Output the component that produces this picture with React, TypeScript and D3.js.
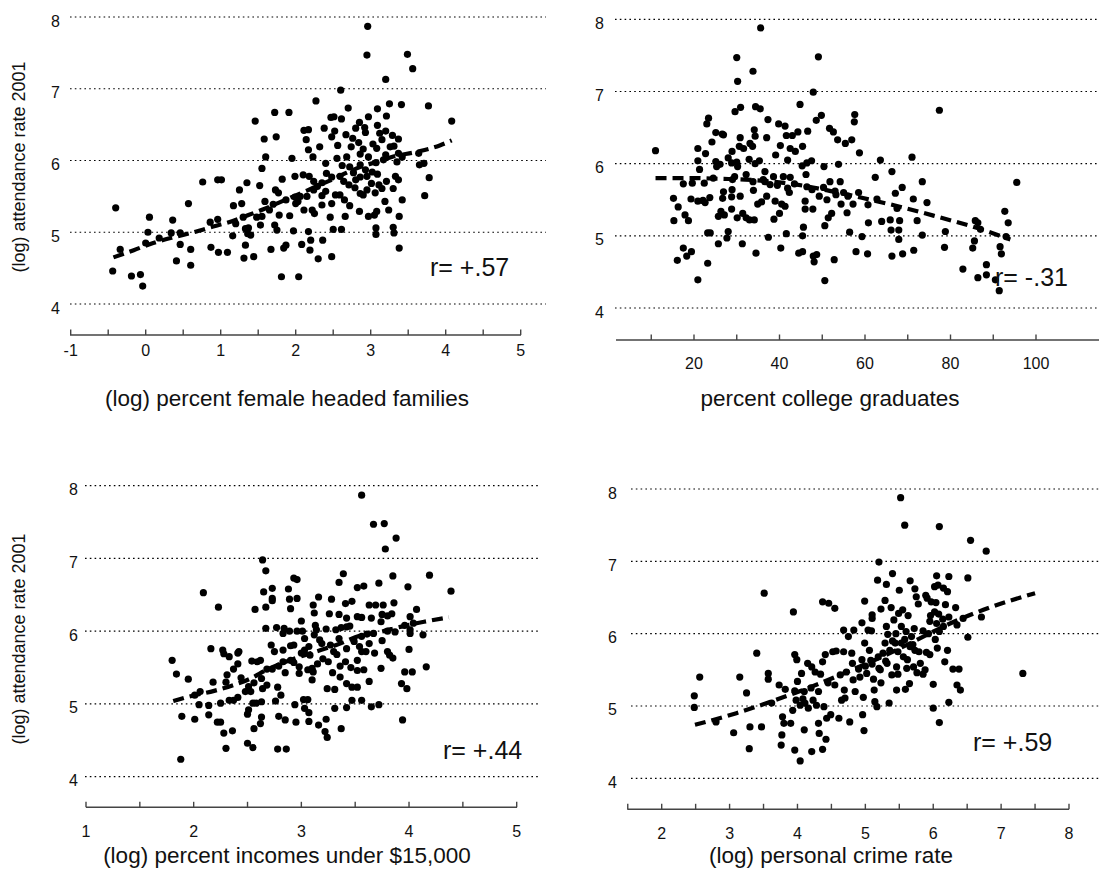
import React from "react";
import * as d3 from "d3";

// ---------------- DATA ----------------
const femaleData: [number, number][] = [
  [2.96,7.87],[2.95,7.47],[3.49,7.48],[3.56,7.28],[3.20,7.13],[2.60,6.98],[2.27,6.83],[2.70,6.73],[3.25,6.79],[3.41,6.78],
  [3.77,6.76],[4.08,6.55],[1.72,6.67],[1.91,6.67],[1.46,6.55],[3.09,6.72],[3.21,6.62],[2.47,6.60],[2.51,6.61],[2.61,6.58],
  [2.97,6.61],[2.85,6.53],[2.92,6.46],[2.80,6.45],[3.09,6.49],[2.38,6.45],[2.52,6.41],[2.11,6.42],[2.17,6.43],[2.93,6.39],
  [3.12,6.38],[3.20,6.41],[3.29,6.35],[1.74,6.33],[1.58,6.30],[2.14,6.29],[2.48,6.33],[2.67,6.36],[2.76,6.31],[2.84,6.25],
  [3.03,6.23],[3.15,6.29],[3.37,6.30],[3.26,6.19],[2.32,6.19],[2.56,6.21],[2.74,6.19],[2.17,6.15],[2.90,6.16],[3.08,6.17],
  [3.20,6.08],[3.31,6.20],[3.37,6.10],[1.60,6.05],[1.95,6.03],[2.23,6.05],[2.55,6.03],[2.68,6.05],[2.86,6.09],[2.97,6.05],
  [3.07,5.97],[3.17,6.01],[3.42,6.05],[3.35,5.98],[3.64,6.10],[3.71,5.96],[3.65,5.94],[2.40,5.96],[2.62,5.93],[2.72,5.91],
  [2.86,5.94],[2.93,5.87],[3.02,5.84],[3.09,5.81],[1.55,5.89],[2.77,5.83],[2.86,5.77],[2.95,5.78],[3.11,5.66],[3.21,5.71],
  [3.37,5.73],[3.33,5.78],[3.78,5.76],[0.76,5.70],[0.96,5.73],[1.01,5.73],[1.35,5.69],[1.82,5.74],[1.99,5.78],[1.52,5.65],
  [1.25,5.59],[1.73,5.59],[2.10,5.80],[2.18,5.78],[2.24,5.71],[2.29,5.64],[2.35,5.69],[2.41,5.82],[2.48,5.77],[2.59,5.78],
  [2.64,5.71],[2.71,5.66],[2.80,5.73],[2.95,5.59],[3.01,5.68],[3.15,5.61],[3.30,5.61],[3.72,5.51],[2.79,5.62],[2.86,5.54],
  [3.06,5.55],[3.19,5.43],[2.90,5.52],[2.59,5.52],[2.65,5.45],[2.53,5.52],[2.35,5.51],[2.40,5.57],[2.24,5.59],[2.35,5.38],
  [2.48,5.40],[2.72,5.37],[2.85,5.29],[3.08,5.29],[3.24,5.31],[3.42,5.45],[3.38,5.22],[2.97,5.22],[3.05,5.24],[2.66,5.22],
  [2.46,5.21],[2.50,5.04],[2.61,5.04],[3.07,5.06],[3.07,4.97],[3.30,5.07],[3.31,4.99],[3.38,4.78],[0.57,5.40],[0.36,5.17],
  [0.05,5.21],[-0.40,5.34],[-0.34,4.76],[0.03,5.00],[0.00,4.85],[0.18,4.92],[0.34,4.99],[0.46,4.99],[0.46,4.83],[0.60,4.76],
  [0.41,4.60],[0.60,4.54],[-0.44,4.46],[-0.19,4.39],[-0.07,4.41],[-0.04,4.25],[0.86,5.14],[0.87,4.79],[0.96,5.18],[0.97,4.72],
  [1.09,4.72],[1.16,4.95],[1.17,5.37],[1.28,5.40],[1.30,5.21],[1.31,4.64],[1.33,4.82],[1.37,5.06],[1.40,4.96],[1.44,4.66],
  [1.48,5.21],[1.59,5.43],[1.67,4.76],[1.70,5.39],[1.75,5.03],[1.78,5.24],[1.81,4.38],[1.84,4.78],[1.87,5.45],[1.87,4.82],
  [1.92,5.23],[1.97,5.02],[2.04,4.38],[2.06,5.50],[2.08,4.83],[2.11,5.31],[2.15,5.50],[2.17,5.01],[2.20,4.89],[2.22,5.31],
  [2.19,4.75],[2.30,4.63],[2.36,4.89],[2.48,4.66],[1.99,5.49],[2.03,5.43],[1.65,5.31],[1.55,5.22],[1.33,5.05],[1.36,4.98],
  [1.72,5.10],[1.77,5.55],[1.53,5.10],[1.20,5.12],[2.25,5.26],[2.00,5.40]
];
const femaleFit: [number, number][] = [
  [-0.43,4.65],[-0.16,4.75],[0.10,4.85],[0.37,4.93],[0.64,5.00],[0.90,5.08],[1.17,5.16],[1.37,5.24],[1.57,5.32],
  [1.77,5.41],[1.97,5.50],[2.15,5.58],[2.32,5.66],[2.50,5.74],[2.68,5.83],[2.86,5.91],[3.08,5.98],[3.28,6.05],
  [3.61,6.12],[3.92,6.21],[4.08,6.28]
];

const collegeData: [number, number][] = [
  [35.6,7.88],[30.0,7.47],[49.1,7.48],[33.8,7.28],[30.2,7.14],[47.9,6.99],[11.0,6.18],[77.4,6.74],[29.6,6.72],[30.9,6.78],
  [34.4,6.79],[35.5,6.76],[44.8,6.82],[49.8,6.67],[48.6,6.60],[57.6,6.68],[57.5,6.58],[23.4,6.63],[23.0,6.55],[37.3,6.61],
  [39.8,6.55],[41.3,6.52],[51.7,6.49],[52.6,6.44],[46.6,6.45],[44.3,6.44],[43.0,6.39],[41.6,6.39],[34.1,6.47],[34.3,6.38],
  [37.0,6.36],[30.8,6.36],[25.1,6.43],[26.6,6.41],[26.9,6.40],[24.2,6.30],[20.9,6.21],[22.7,6.14],[33.1,6.28],[33.7,6.24],
  [30.6,6.24],[31.6,6.21],[28.9,6.17],[40.2,6.25],[42.5,6.21],[43.7,6.17],[45.4,6.24],[53.6,6.33],[55.4,6.28],[56.9,6.33],
  [58.7,6.15],[63.6,6.05],[71.0,6.09],[66.3,5.89],[39.1,6.12],[41.9,6.05],[45.3,5.97],[46.4,6.01],[47.5,6.04],[50.4,5.96],
  [53.8,5.99],[20.9,6.04],[21.3,5.92],[25.1,6.03],[25.3,5.96],[26.1,5.99],[28.0,6.08],[28.8,6.01],[30.0,6.02],[30.2,5.96],
  [32.9,6.06],[34.3,6.00],[35.3,6.04],[36.6,5.89],[17.5,5.72],[19.6,5.73],[22.4,5.73],[15.2,5.52],[16.3,5.40],[15.3,5.21],
  [17.9,5.29],[18.7,5.21],[19.3,5.51],[20.9,5.48],[22.1,5.49],[22.6,5.46],[23.7,5.53],[17.5,4.83],[16.1,4.66],[18.3,4.72],
  [19.4,4.78],[20.9,4.39],[23.2,4.62],[23.2,5.04],[23.8,5.04],[25.7,4.89],[25.7,5.27],[26.3,5.34],[27.1,5.29],[26.7,5.52],
  [26.9,5.61],[27.7,4.97],[28.0,5.06],[28.8,5.37],[28.8,5.54],[28.9,5.64],[29.5,5.82],[30.1,5.25],[30.8,5.55],[31.3,4.89],
  [31.4,5.31],[32.2,5.25],[33.0,5.22],[34.1,5.22],[32.2,5.85],[33.8,5.75],[33.9,5.63],[34.5,4.76],[34.9,5.44],[35.8,5.47],
  [36.6,5.75],[37.0,5.55],[37.4,4.98],[37.8,5.71],[38.6,5.82],[38.7,5.23],[38.98,5.48],[40.0,5.31],[40.3,4.83],[40.5,5.44],
  [40.9,5.82],[41.3,5.41],[41.6,5.03],[41.9,5.66],[42.3,5.60],[42.5,5.81],[44.5,4.76],[45.4,5.00],[45.6,5.12],[45.4,4.78],
  [46.0,5.48],[46.0,5.37],[46.2,5.85],[46.4,5.68],[47.6,5.64],[47.8,5.37],[47.9,4.72],[48.1,4.64],[48.7,4.74],[49.3,5.55],
  [50.3,5.67],[50.6,5.14],[50.6,4.38],[51.1,5.50],[51.4,5.25],[51.8,5.75],[52.2,5.31],[52.8,4.67],[53.2,5.57],[54.2,5.75],
  [54.4,5.44],[55.0,5.60],[55.8,5.32],[56.4,5.05],[57.2,5.44],[57.9,4.78],[58.5,5.60],[59.3,4.99],[60.6,4.75],[60.8,5.18],
  [60.7,5.43],[62.4,5.81],[62.8,5.51],[63.9,5.20],[65.9,5.22],[66.1,5.08],[66.3,4.72],[67.1,5.59],[67.5,5.38],[67.9,5.08],
  [67.9,4.95],[68.1,5.21],[68.7,5.67],[68.8,4.75],[71.3,5.51],[71.4,4.80],[72.2,5.21],[73.4,5.75],[73.4,5.01],[74.5,5.46],
  [78.8,5.06],[78.6,4.84],[82.9,4.54],[85.2,4.83],[85.6,4.93],[85.8,5.21],[86.4,5.18],[86.4,4.42],[88.4,4.60],[88.4,4.46],
  [90.5,4.39],[91.6,4.85],[91.9,4.75],[91.4,4.24],[92.7,5.34],[93.0,4.99],[93.5,5.18],[95.5,5.74],[87.0,5.09],[36.2,5.78],
  [39.5,5.70],[43.5,5.72],[29.0,5.78],[24.5,5.80],[53.0,5.62],[56.0,5.55]
];
const collegeFit: [number, number][] = [
  [11,5.80],[20,5.80],[26,5.79],[32,5.78],[40,5.74],[46,5.69],[52,5.62],[59,5.53],[67,5.42],[76,5.28],[85,5.13],[94,4.95]
];

const incomeData: [number, number][] = [
  [3.56,7.87],[3.67,7.47],[3.77,7.48],[3.88,7.28],[3.78,7.13],[2.64,6.98],[2.67,6.83],[2.93,6.73],[2.96,6.71],[3.39,6.79],
  [3.35,6.67],[3.85,6.76],[4.19,6.77],[4.39,6.55],[3.99,6.61],[3.72,6.66],[3.58,6.62],[3.52,6.60],[2.09,6.53],[2.73,6.59],
  [2.88,6.58],[2.65,6.54],[2.73,6.45],[2.73,6.42],[2.89,6.44],[2.96,6.45],[3.16,6.47],[3.28,6.44],[3.47,6.41],[3.41,6.38],
  [3.63,6.36],[3.69,6.36],[3.76,6.36],[3.86,6.39],[4.07,6.30],[2.23,6.33],[2.57,6.30],[2.67,6.33],[2.90,6.31],[3.11,6.36],
  [3.12,6.25],[3.26,6.24],[3.35,6.23],[3.42,6.18],[3.52,6.20],[3.56,6.19],[3.65,6.18],[3.75,6.23],[3.80,6.21],[3.84,6.24],
  [4.01,6.20],[3.00,6.14],[3.45,6.07],[3.74,6.13],[3.96,6.08],[4.04,6.11],[2.67,6.04],[2.77,6.05],[2.84,6.04],[2.89,6.00],
  [2.96,6.00],[3.01,6.00],[3.13,6.08],[3.12,5.95],[3.14,6.02],[3.23,6.03],[3.32,6.02],[3.37,6.05],[3.42,6.06],[3.80,6.00],
  [3.87,5.99],[4.01,6.02],[4.01,5.97],[4.13,5.95],[2.83,5.97],[3.03,5.90],[3.17,5.88],[3.35,5.90],[3.56,5.93],[3.61,5.96],
  [3.67,5.97],[3.75,5.87],[2.16,5.76],[2.27,5.74],[2.28,5.69],[2.33,5.65],[2.42,5.72],[2.41,5.70],[2.72,5.81],[2.75,5.72],
  [2.83,5.74],[2.90,5.80],[2.93,5.81],[3.00,5.70],[3.03,5.74],[3.07,5.79],[3.08,5.67],[3.19,5.83],[3.27,5.81],[3.30,5.72],
  [3.42,5.76],[3.49,5.86],[3.54,5.79],[3.56,5.72],[3.60,5.72],[3.63,5.83],[3.68,5.70],[3.80,5.72],[3.82,5.67],[3.85,5.63],
  [4.00,5.75],[4.16,5.51],[1.80,5.60],[1.84,5.41],[1.95,5.34],[2.18,5.30],[2.31,5.40],[2.37,5.48],[2.41,5.55],[2.54,5.59],
  [2.59,5.58],[2.62,5.60],[2.68,5.48],[2.73,5.48],[2.79,5.52],[2.83,5.58],[2.85,5.43],[2.93,5.57],[2.98,5.51],[2.98,5.42],
  [3.06,5.47],[3.10,5.49],[3.11,5.44],[3.10,5.33],[3.25,5.58],[3.29,5.43],[3.36,5.52],[3.41,5.58],[3.46,5.50],[3.52,5.60],
  [3.52,5.46],[3.58,5.47],[3.63,5.31],[3.74,5.49],[3.36,5.37],[3.42,5.28],[3.47,5.23],[3.52,5.23],[3.24,5.21],[3.31,5.20],
  [3.93,5.28],[3.98,5.21],[3.96,5.44],[4.03,5.44],[2.63,5.35],[2.56,5.29],[2.51,5.24],[2.53,5.17],[2.48,5.17],[2.64,5.21],
  [2.68,5.26],[2.78,5.23],[2.81,5.12],[2.06,5.17],[2.01,5.12],[2.05,4.99],[2.14,4.98],[2.25,5.01],[2.33,5.05],[2.37,5.05],
  [2.41,5.09],[2.51,4.92],[2.50,4.86],[2.55,5.01],[2.58,5.01],[2.63,5.03],[2.76,5.04],[2.94,4.99],[3.02,5.06],[3.06,5.06],
  [3.03,4.94],[3.07,4.88],[3.07,4.76],[3.16,4.71],[3.23,4.79],[3.22,4.62],[3.24,4.54],[3.31,4.94],[3.42,4.95],[3.37,4.66],
  [3.47,5.05],[3.56,5.05],[3.65,4.96],[3.72,4.99],[3.94,4.78],[1.89,4.83],[2.01,4.79],[2.14,4.85],[2.22,4.75],[2.25,4.75],
  [2.28,4.60],[2.36,4.63],[2.30,4.39],[2.50,4.46],[2.55,4.40],[2.56,4.66],[2.62,4.73],[2.63,4.82],[2.79,4.83],[2.85,4.78],
  [2.95,4.75],[2.78,4.38],[2.86,4.38],[1.88,4.24],[2.30,5.30],[2.44,5.36],[3.20,5.62],[3.33,5.68],[2.90,5.60],[3.15,5.55]
];
const incomeFit: [number, number][] = [
  [1.81,5.04],[1.98,5.11],[2.19,5.18],[2.37,5.26],[2.53,5.35],[2.68,5.47],[2.82,5.56],[2.99,5.65],[3.18,5.74],
  [3.36,5.83],[3.55,5.94],[3.73,5.99],[3.92,6.06],[4.14,6.13],[4.37,6.19]
];

const crimeData: [number, number][] = [
  [5.52,7.88],[5.58,7.50],[6.09,7.48],[6.55,7.29],[6.78,7.14],[5.20,6.99],[5.18,6.74],[5.40,6.83],[5.31,6.68],[5.50,6.60],
  [5.66,6.73],[6.05,6.80],[6.23,6.79],[6.51,6.77],[5.73,6.62],[6.02,6.65],[6.07,6.67],[6.15,6.63],[6.21,6.58],[5.89,6.53],
  [5.75,6.51],[5.78,6.41],[5.91,6.49],[5.97,6.44],[6.04,6.43],[6.18,6.40],[6.33,6.36],[3.51,6.56],[3.94,6.30],[4.37,6.44],
  [4.46,6.42],[4.55,6.35],[4.99,6.45],[5.10,6.21],[5.10,6.26],[5.23,6.34],[5.29,6.46],[5.38,6.36],[5.49,6.28],[5.55,6.33],
  [5.63,6.25],[5.42,6.19],[5.96,6.25],[6.02,6.30],[6.08,6.27],[5.95,6.17],[6.14,6.20],[6.23,6.23],[6.35,6.12],[6.44,6.21],
  [6.71,6.23],[6.51,5.95],[4.95,6.15],[4.68,6.05],[4.75,5.96],[4.83,6.05],[5.04,6.05],[5.09,6.04],[5.31,6.10],[5.33,5.99],
  [5.45,6.00],[5.53,6.10],[5.60,6.03],[5.68,5.96],[5.72,6.07],[5.85,6.04],[5.93,6.00],[6.05,6.14],[6.09,6.03],[6.15,6.10],
  [6.03,5.92],[6.06,5.80],[6.21,5.77],[6.17,5.61],[6.29,5.51],[6.38,5.51],[6.35,5.29],[6.40,5.22],[7.32,5.45],[3.40,5.73],
  [3.57,5.45],[3.57,5.37],[2.56,5.40],[3.15,5.40],[3.25,5.18],[2.48,5.14],[2.48,4.98],[2.80,4.78],[3.06,4.63],[3.30,4.71],
  [3.47,4.71],[3.29,4.41],[3.62,5.04],[3.73,5.29],[3.82,5.23],[3.78,4.85],[3.77,4.60],[3.76,4.46],[3.80,4.76],[3.90,4.76],
  [3.93,4.94],[3.96,5.71],[3.99,5.64],[4.00,5.34],[3.96,5.21],[3.98,5.08],[3.96,4.39],[4.04,4.24],[4.04,5.01],[4.06,5.45],
  [4.10,5.20],[4.11,5.04],[4.10,4.67],[4.15,5.59],[4.16,4.97],[4.21,5.54],[4.21,4.37],[4.23,5.08],[4.26,5.47],[4.28,5.01],
  [4.31,5.20],[4.32,4.62],[4.31,4.76],[4.34,5.44],[4.37,5.61],[4.37,4.40],[4.39,4.99],[4.41,5.71],[4.42,4.54],[4.43,4.83],
  [4.45,5.32],[4.49,4.88],[4.52,5.75],[4.55,5.29],[4.57,5.76],[4.61,4.83],[4.68,5.75],[4.69,5.22],[4.72,5.47],[4.70,5.11],
  [4.77,4.78],[4.80,5.73],[4.81,5.59],[4.82,5.36],[4.85,5.20],[4.90,5.51],[4.95,5.64],[4.96,4.88],[4.98,4.66],[4.99,5.87],
  [5.02,5.45],[5.06,5.77],[5.08,5.63],[5.12,5.37],[5.13,5.22],[5.14,5.06],[5.17,4.99],[5.19,5.68],[5.22,5.50],[5.23,5.32],
  [5.26,5.73],[5.29,5.87],[5.32,5.59],[5.35,5.04],[5.36,5.77],[5.39,5.43],[5.44,5.87],[5.46,5.54],[5.46,5.22],[5.48,5.44],
  [5.48,5.75],[5.53,5.87],[5.56,5.68],[5.59,5.23],[5.61,5.52],[5.62,5.64],[5.65,5.31],[5.66,5.82],[5.71,5.54],[5.73,5.77],
  [5.76,5.46],[5.79,5.75],[5.81,5.59],[5.85,5.44],[5.88,5.50],[5.90,5.74],[5.95,5.71],[6.00,5.30],[6.00,4.97],[6.09,4.77],
  [6.23,5.05],[4.97,5.12],[4.63,5.43],[4.65,5.08],[5.00,5.55],[5.10,5.58],[5.20,5.52],[4.92,5.40],[5.30,5.62],[5.40,5.90],
  [5.58,5.92],[5.70,5.85],[4.20,5.25],[4.08,5.10]
];
const crimeFit: [number, number][] = [
  [2.49,4.74],[3.10,4.90],[3.64,5.07],[4.16,5.25],[4.68,5.45],[5.22,5.67],[5.71,5.89],[6.20,6.12],[6.74,6.33],[7.50,6.56]
];

const yGridValues = [4, 5, 6, 7, 8];
const femaleTicks = [-1, 0, 1, 2, 3, 4, 5];
const collegeTicks = [20, 40, 60, 80, 100];
const incomeTicks = [1, 2, 3, 4, 5];
const crimeTicks = [2, 3, 4, 5, 6, 7, 8];

const femaleMinor = [-0.5, 0.5, 1.5, 2.5, 3.5, 4.5];
const collegeMinor = [10, 30, 50, 70, 90];
const incomeMinor = [1.5, 2.5, 3.5, 4.5];
const crimeMinor = [1.5, 2.5, 3.5, 4.5, 5.5, 6.5, 7.5];

const titles = [
  "(log) percent female headed families",
  "percent college graduates",
  "(log) percent incomes under $15,000",
  "(log) personal crime rate",
];
const rLabels = ["r= +.57", "r= -.31", "r= +.44", "r= +.59"];
const yTitle = "(log) attendance rate 2001";

// ---------------- LAYOUT ----------------
const FONT = "'Liberation Sans', Arial, Helvetica, sans-serif";

type Panel = {
  data: [number, number][];
  fit: [number, number][];
  ticks: number[];
  minor: number[];
  xDom: [number, number];
  xRng: [number, number];
  axisX: [number, number];
  y4: number;
  y8: number;
  axisY: number;
  gridX: [number, number];
  yLabelX: number;
  tickLabelY: number;
  title: string;
  titleX: number;
  titleY: number;
  r: string;
  rX: number;
  rY: number;
  showYTitle: boolean;
  yTitleX: number;
  yTitleY: number;
};

const panels: Panel[] = [
  {
    data: femaleData, fit: femaleFit, ticks: femaleTicks, minor: femaleMinor,
    xDom: [-1, 5], xRng: [70.7, 520.7], axisX: [70, 521],
    y4: 304, y8: 17, axisY: 335, gridX: [70, 546], yLabelX: 60, tickLabelY: 350,
    title: titles[0], titleX: 287, titleY: 398, r: rLabels[0], rX: 430, rY: 276,
    showYTitle: true, yTitleX: 19, yTitleY: 167,
  },
  {
    data: collegeData, fit: collegeFit, ticks: collegeTicks, minor: collegeMinor,
    xDom: [20, 100], xRng: [694, 1036], axisX: [616, 1099],
    y4: 308, y8: 19.3, axisY: 340, gridX: [615, 1099], yLabelX: 604, tickLabelY: 363,
    title: titles[1], titleX: 830, titleY: 398, r: rLabels[1], rX: 995, rY: 286,
    showYTitle: false, yTitleX: 0, yTitleY: 0,
  },
  {
    data: incomeData, fit: incomeFit, ticks: incomeTicks, minor: incomeMinor,
    xDom: [1, 5], xRng: [86, 516.7], axisX: [86, 517],
    y4: 776.7, y8: 485.7, axisY: 807.3, gridX: [85, 540], yLabelX: 78, tickLabelY: 831.7,
    title: titles[2], titleX: 287, titleY: 855, r: rLabels[2], rX: 443, rY: 759,
    showYTitle: true, yTitleX: 19, yTitleY: 639,
  },
  {
    data: crimeData, fit: crimeFit, ticks: crimeTicks, minor: crimeMinor,
    xDom: [2, 8], xRng: [661.7, 1069], axisX: [627.3, 1069],
    y4: 778.3, y8: 489, axisY: 809.3, gridX: [631, 1099], yLabelX: 617, tickLabelY: 833,
    title: titles[3], titleX: 831, titleY: 855, r: rLabels[3], rX: 973, rY: 751,
    showYTitle: false, yTitleX: 0, yTitleY: 0,
  },
];

function PanelView({ p }: { p: Panel }) {
  const x = d3.scaleLinear().domain(p.xDom).range(p.xRng);
  const y = d3.scaleLinear().domain([4, 8]).range([p.y4, p.y8]);
  const line = d3
    .line<[number, number]>()
    .x((d) => x(d[0]))
    .y((d) => y(d[1]))
    .curve(d3.curveMonotoneX);
  const allTicks = [...p.ticks, ...p.minor];
  return (
    <g>
      {yGridValues.map((v) => (
        <g key={"g" + v}>
          <line x1={p.gridX[0]} x2={p.gridX[1]} y1={y(v)} y2={y(v)} stroke="#000" strokeWidth={1.2} strokeDasharray="1.6,3.2" />
          <text x={p.yLabelX} y={y(v) + 4} textAnchor="end" dominantBaseline="central" fontSize={16} fontFamily={FONT} fill="#111">
            {v}
          </text>
        </g>
      ))}
      <line x1={p.axisX[0]} x2={p.axisX[1]} y1={p.axisY} y2={p.axisY} stroke="#444" strokeWidth={1.4} />
      {allTicks.map((t) => (
        <line key={"t" + t} x1={x(t)} x2={x(t)} y1={p.axisY} y2={p.axisY - 5.5} stroke="#444" strokeWidth={1.4} />
      ))}
      {p.ticks.map((t) => (
        <text key={"l" + t} x={x(t)} y={p.tickLabelY} textAnchor="middle" dominantBaseline="central" fontSize={16} fontFamily={FONT} fill="#111">
          {t}
        </text>
      ))}
      {p.data.map((d, i) => (
        <circle key={i} cx={x(d[0])} cy={y(d[1])} r={3.6} fill="#000" />
      ))}
      <path d={line(p.fit) || ""} stroke="#000" strokeWidth={4.2} strokeDasharray="11,6" fill="none" />
      <text x={p.titleX} y={p.titleY} textAnchor="middle" dominantBaseline="central" fontSize={22.5} fontFamily={FONT} fill="#111">
        {p.title}
      </text>
      <text x={p.rX} y={p.rY} fontSize={25} fontFamily={FONT} fill="#111">
        {p.r}
      </text>
      {p.showYTitle && (
        <text
          transform={`translate(${p.yTitleX},${p.yTitleY}) rotate(-90)`}
          textAnchor="middle"
          dominantBaseline="central"
          fontSize={18}
          fontFamily={FONT}
          fill="#111"
        >
          {yTitle}
        </text>
      )}
    </g>
  );
}

export default function App() {
  return (
    <svg width={1099} height={870} style={{ position: "absolute", left: 0, top: 0, background: "#fff" }}>
      <rect width={1099} height={870} fill="#fff" />
      {panels.map((p, i) => (
        <PanelView key={i} p={p} />
      ))}
    </svg>
  );
}
